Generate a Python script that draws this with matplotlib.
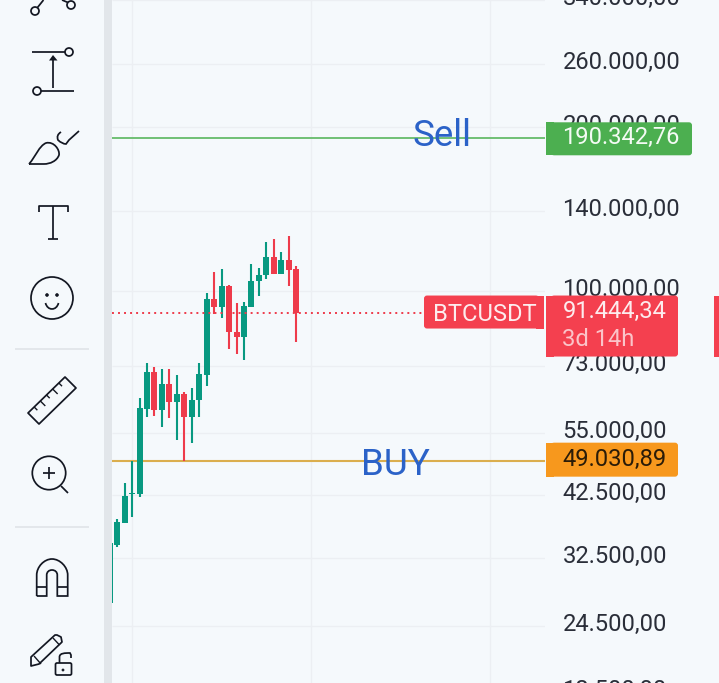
import numpy as np
import matplotlib
matplotlib.use("Agg")
import matplotlib.pyplot as plt
from matplotlib.patches import Circle, FancyBboxPatch, PathPatch, Polygon, Rectangle
from matplotlib.path import Path

plt.rcParams["font.family"] = ["Roboto", "DejaVu Sans"]

# velas BTCUSDT
opens = [26900, 34400, 37700, 42600, 42600, 60900, 71200, 60700, 67700, 62800, 64900, 58900, 63300,
         70300, 96800, 93600, 102300, 84300, 82500, 93600, 104400, 107100, 115500, 107500, 114100, 109800]
highs = [34700, 38400, 44600, 49030, 63800, 74000, 72700, 72100, 72100, 70300, 65500, 66600, 74000,
         99300, 108400, 109800, 102700, 95200, 95600, 112200, 110300, 123000, 124600, 118000, 126200, 111200]
lows = [26900, 34100, 37700, 38700, 42100, 58900, 59200, 56500, 58700, 53500, 49030, 52800, 58900,
        67100, 90900, 89400, 78400, 76800, 74900, 93600, 98000, 105300, 107500, 107500, 102300, 80800]
closes = [34700, 37900, 42300, 42800, 61200, 71200, 60700, 67700, 62800, 64900, 58900, 63300, 70600,
          96800, 93600, 102300, 84300, 82500, 94000, 104400, 107100, 115500, 107500, 114100, 109400, 91444.34]

tick_prices = [340000, 260000, 200000, 140000, 100000, 73000, 55000, 42500, 32500, 24500, 18500]
grid_times = [3, 27, 51]
sell_price = 190342.76
buy_price = 49030.89
last_price = 91444.34

BG = "#F5F9FC"
GREEN = "#089981"
RED = "#EE3B4B"
INK = "#131722"
GRID = "#ECEFF3"
FS = 17.1

W, H = 719, 683
X0, DX = 109.7, 7.46
fig = plt.figure(figsize=(W / 100, H / 100), dpi=100, facecolor=BG)

ax = fig.add_axes([112 / W, 0, (545 - 112) / W, 1], facecolor=BG)
ax.set_yscale("log")
ax.set_ylim(19240, 340600)
ax.set_xlim((112 - X0) / DX, (545 - X0) / DX)
ax.axis("off")

ax.hlines(tick_prices, *ax.get_xlim(), color=GRID, lw=1.0, zorder=1)
ax.vlines(grid_times, 19240, 340600, color=GRID, lw=1.0, zorder=1)

ax.axhline(sell_price, color="#66BB6A", lw=1.3, zorder=2)
ax.axhline(buy_price, color="#DBAE4E", lw=1.5, zorder=2)

x = np.arange(len(opens))
colors = [GREEN if c >= o else RED for o, c in zip(opens, closes)]
ax.vlines(x, lows, highs, color=colors, lw=1.5, zorder=3)
tops = np.maximum(opens, closes)
bots = np.minimum(opens, closes)
ax.bar(x, tops - bots, bottom=bots, width=0.8, color=colors, lw=0, zorder=4)

ax.plot([ax.get_xlim()[0], (424 - X0) / DX], [last_price, last_price], color=RED, lw=1.4,
        dashes=(1.0, 2.1), zorder=5)

ov = fig.add_axes([0, 0, 1, 1], facecolor="none")
ov.set_xlim(0, W)
ov.set_ylim(H, 0)
ov.axis("off")


def py(price):
    return H - ax.transData.transform((0, price))[1]


def fmt(v):
    return f"{v:,.2f}".replace(",", "X").replace(".", ",").replace("X", ".")


# eje de precios
for p in tick_prices:
    ov.text(562.5, py(p) - 1.5, fmt(p), fontsize=FS, color="#2A2E39", va="center", ha="left", zorder=2)


def tag(x0, x1, y0, y1, color):
    ov.add_patch(FancyBboxPatch((x0, y0), x1 - x0, y1 - y0, boxstyle="round,pad=0,rounding_size=3",
                                fc=color, ec="none", zorder=3))


def tag_left(x0, x1, y0, y1, color):
    tag(x0, x1 - 5, y0, y1, color)
    ov.add_patch(Rectangle((x1 - 8, y0), 8, y1 - y0, fc=color, ec="none", zorder=3))


def tag_right(x0, x1, y0, y1, color):
    tag(x0 + 5, x1, y0, y1, color)
    ov.add_patch(Rectangle((x0, y0), 8, y1 - y0, fc=color, ec="none", zorder=3))


yv = py(sell_price)
tag_right(546, 692, yv - 16, yv + 17, "#4CAF50")
ov.text(562.5, yv - 1, fmt(sell_price), fontsize=FS, color="#F4FBF4", va="center", zorder=4)

yv = py(buy_price)
tag_right(546, 678, yv - 18, yv + 16, "#F7981D")
ov.text(562.5, yv - 1, fmt(buy_price), fontsize=FS, color="#2A1C08", va="center", zorder=4)

yv = py(last_price)
tag_right(546, 678, yv - 17, yv + 44, "#F4404F")
ov.text(562.5, yv - 1, fmt(last_price), fontsize=FS, color="#FDECEE", va="center", zorder=4)
ov.text(562.5, yv + 27, "3d 14h", fontsize=FS, color="#FBC4C9", va="center", zorder=4)
tag_left(424, 544, yv - 17, yv + 16, "#F4404F")
ov.text(433, yv + 1.5, "BTCUSDT", fontsize=FS, color="#FDECEE", va="center", zorder=4)
ov.add_patch(Rectangle((714, yv - 17), 6, 61, fc="#F4404F", ec="none", zorder=3))

ov.text(442, py(sell_price) - 2, "Sell", fontsize=26.5, color="#2B62C8", ha="center", va="center", zorder=6)
ov.text(395, py(buy_price) + 4, "BUY", fontsize=26.5, color="#2B62C8", ha="center", va="center", zorder=6)

# barra de herramientas
ov.add_patch(Rectangle((104, 0), 8, H, fc="#E2E6EA", ec="none", zorder=1))
for yd in [349, 527]:
    ov.plot([16, 88], [yd, yd], color="#E3E7EB", lw=1.4, zorder=1)


def ln(xs, ys, lw=1.25):
    ov.plot(xs, ys, color=INK, lw=lw, solid_capstyle="butt", zorder=2)


def circ(cx, cy, r, lw=1.25, fill="none"):
    ov.add_patch(Circle((cx, cy), r, fc=fill, ec=INK, lw=lw, zorder=2))


def curve(verts, codes):
    ov.add_patch(PathPatch(Path(verts, codes), fc="none", ec=INK, lw=1.25, zorder=2))


M, L, C3, C4 = Path.MOVETO, Path.LINETO, Path.CURVE3, Path.CURVE4

# linea de tendencia
circ(35, 11, 4)
circ(71, 5, 4)
ln([37.5, 43.5], [7.5, 0])
ln([62, 68], [0, 2.5])

# proyeccion
ln([32, 65], [52, 52])
circ(69, 52, 4)
ln([53, 53], [88, 58])
ov.add_patch(Polygon([[49, 60.5], [57.5, 60.5], [53, 55]], fc=INK, ec="none", zorder=2))
ln([41, 74], [91, 91])
circ(37, 91, 4)

# pincel
curve([(29, 164), (36, 156), (39, 146), (46, 143), (54, 141), (60, 150), (59, 155), (57, 161), (50, 164),
       (44, 164), (29, 164)],
      [M, C4, C4, C4, C4, C4, C4, C4, C4, C4, L])
curve([(61, 132), (56, 135), (58, 140), (62, 144), (66, 144), (69, 140), (79, 131)],
      [M, C3, C3, C3, C3, L, L])

# texto
ln([38.5, 38.5, 67.5, 67.5], [212, 206, 206, 212])
ln([53, 53], [206, 239])
ln([48, 58], [239, 239])

# emoji
circ(52, 298, 21)
circ(47, 295, 1.4, lw=0.5, fill=INK)
circ(57, 295, 1.4, lw=0.5, fill=INK)
curve([(45.5, 303), (47.5, 311), (56.5, 311), (58.5, 303)], [M, C4, C4, C4])

# regla
ruler = np.array([[65, 377], [76, 388], [39, 424], [28, 413]], dtype=float)
ov.add_patch(Polygon(ruler, closed=True, fc="none", ec=INK, lw=1.25, joinstyle="round", zorder=2))
edge = ruler[3] - ruler[0]
for k, f in enumerate([1 / 6, 2 / 6, 3 / 6, 4 / 6, 5 / 6]):
    p0 = ruler[0] + edge * f
    dl = 7 if k % 2 == 1 else 4.5
    ln([p0[0], p0[0] + dl * 0.71], [p0[1], p0[1] + dl * 0.71], lw=1.0)

# lupa
circ(49, 473, 16.7)
ln([43, 55], [473, 473])
ln([49, 49], [467, 479])
ln([61, 68], [486, 493])

# iman
curve([(36.7, 596), (36.7, 575), (36.7, 567), (44, 559), (52, 559), (60, 559), (67.7, 567), (67.7, 575), (67.7, 596),
       (57.3, 596), (57.3, 575), (57.3, 572), (55, 570), (52, 570), (49, 570), (46.7, 572), (46.7, 575), (46.7, 596),
       (36.7, 596)],
      [M, L, C4, C4, C4, C4, C4, C4, L, L, L, C4, C4, C4, C4, C4, C4, L, L])
ln([36.7, 46.7], [587, 587])
ln([57.3, 67.7], [587, 587])

# lapiz y candado
ov.add_patch(Polygon([[31, 657], [31, 666], [39, 664], [62, 642], [61, 637], [57, 635], [55, 635]], closed=True,
                     fc="none", ec=INK, lw=1.25, joinstyle="round", zorder=2))
ln([34, 41], [656, 664], lw=1.0)
ln([53, 59.5], [638, 645], lw=1.0)
ov.add_patch(FancyBboxPatch((55.5, 663), 16, 12, boxstyle="round,pad=0,rounding_size=1.5", fc=BG, ec=INK, lw=1.25,
                            zorder=2))
curve([(59.5, 663), (59.5, 657), (59.5, 653), (65, 653), (70, 653), (71, 655), (71, 658)], [M, L, C4, C4, C4, L, L])
circ(63, 670, 1.1, lw=0.4, fill=INK)

fig.savefig("out.png", dpi=100, facecolor=BG)
